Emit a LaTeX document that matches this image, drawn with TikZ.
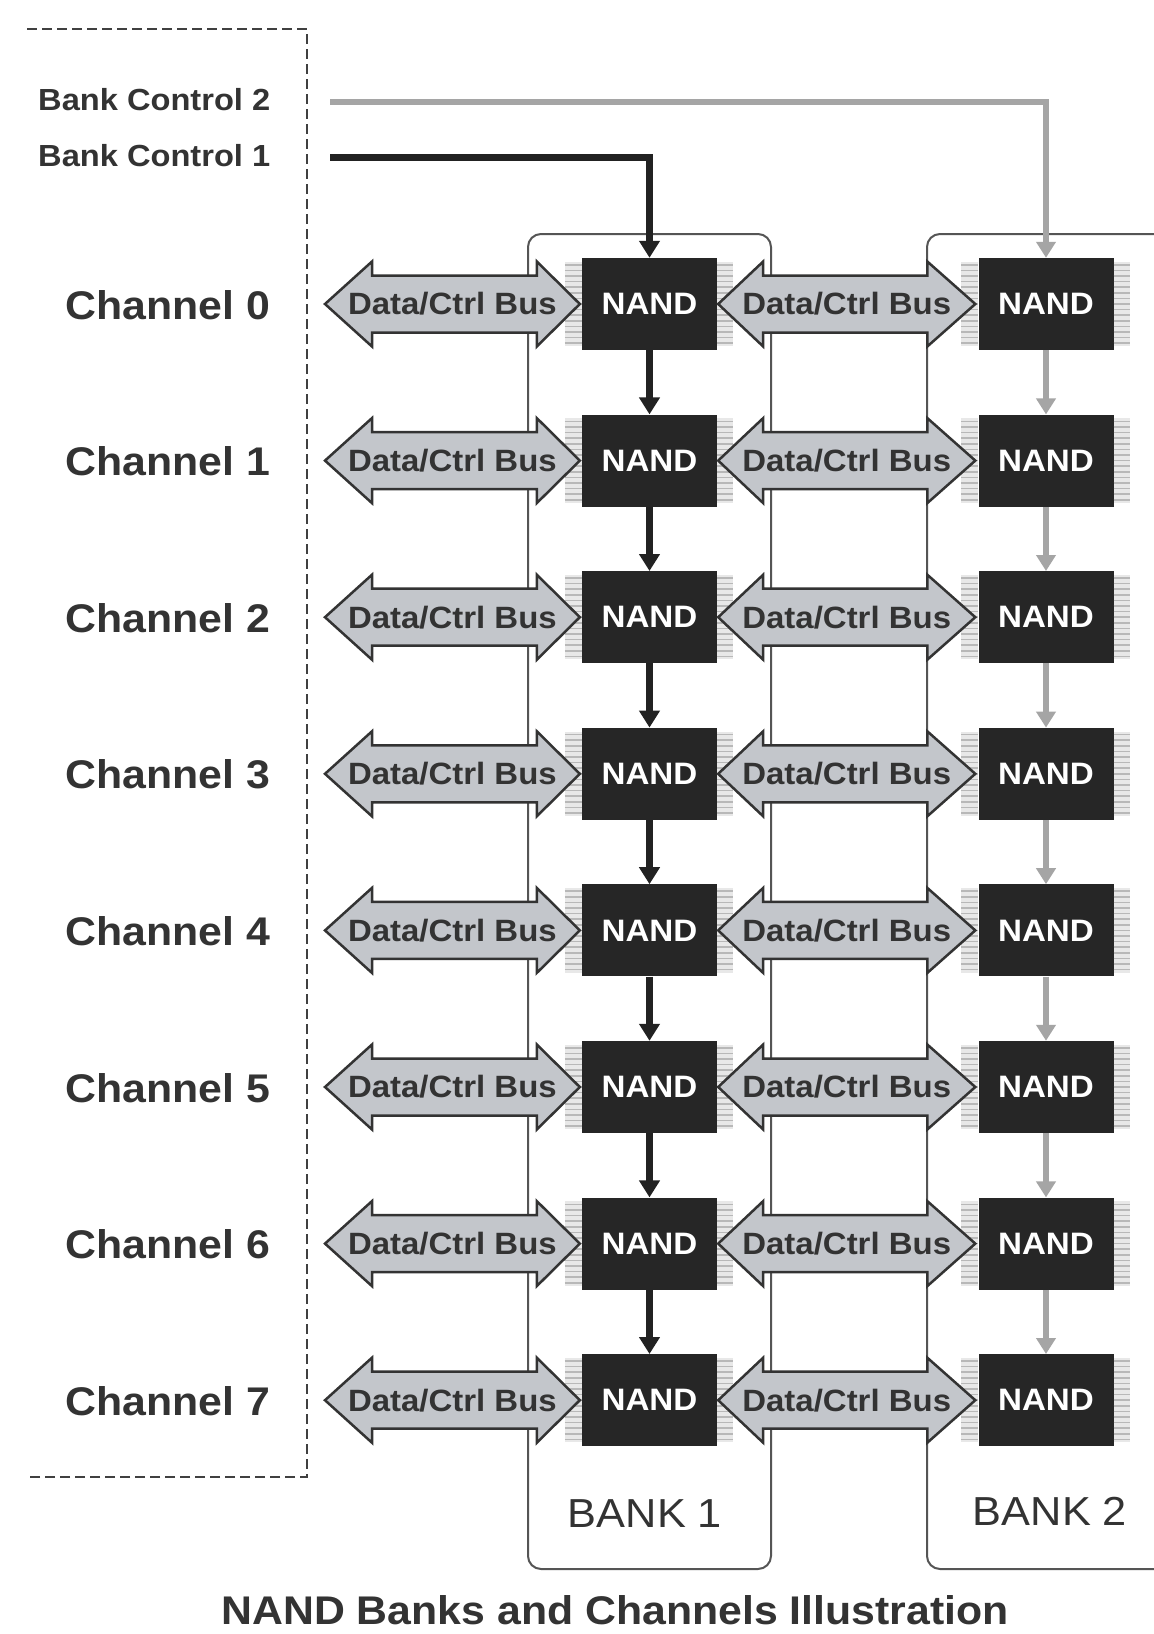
\documentclass[tikz,border=0pt]{standalone}
\usepackage{fontspec}
\setmainfont{Liberation Sans}[FakeStretch=1.07]
\usetikzlibrary{arrows.meta,calc}
\definecolor{nandfill}{HTML}{262626}
\definecolor{busfill}{HTML}{C3C6CB}
\definecolor{busline}{HTML}{333333}
\definecolor{txt}{HTML}{333333}
\definecolor{ctrlgrey}{HTML}{A5A5A5}
\definecolor{ctrlblack}{HTML}{222222}
\definecolor{pinbg}{HTML}{E8E8E8}
\definecolor{pinln}{HTML}{B8B8B8}
\definecolor{bankln}{HTML}{555555}
\newcommand\drawbus[4]{%
  \draw[bus] (#1) -- ++(#3,-42.5) -- ++(0,14) -- ($(#2)+(-#4,-28.5)$) -- ++(0,-14) -- (#2)
    -- ++(-#4,42.5) -- ++(0,-14) -- ($(#1)+(#3,28.5)$) -- ++(0,14) -- cycle;}
\begin{document}
\begin{tikzpicture}[x=1pt,y=-1pt,
  nand/.style={fill=nandfill, text=white, minimum width=135pt, minimum height=92pt, inner sep=0pt, font=\fontsize{31}{31}\selectfont\bfseries},
  bus/.style={fill=busfill, draw=busline, line width=2.5pt, line join=miter},
  bustext/.style={text=txt, inner sep=0pt, font=\fontsize{30.8}{31}\selectfont\bfseries},
  chlabel/.style={text=txt, inner sep=0pt, anchor=base, font=\fontsize{40}{40}\selectfont\bfseries},
  ctrllabel/.style={text=txt, inner sep=0pt, anchor=base west, font=\fontsize{30.5}{31}\selectfont\bfseries},
  banklabel/.style={text=txt, inner sep=0pt, anchor=base, font=\fontsize{40.5}{41}\selectfont},
  captionstyle/.style={text=txt, inner sep=0pt, anchor=base, font=\fontsize{40}{40}\selectfont\bfseries},
  bankbox/.style={draw=bankln, line width=2pt, rounded corners=13pt},
  framebox/.style={draw=black!75, line width=2pt, dash pattern=on 10pt off 5pt},
  flowa/.style={draw=ctrlblack, line width=7pt, line join=miter, -{Triangle[width=20pt,length=17pt]}},
  flowb/.style={draw=ctrlgrey, line width=6pt, line join=miter, -{Triangle[width=19pt,length=16pt]}},
  pinfill/.style={fill=pinbg},
  pinline/.style={draw=pinln, line width=1.6pt},
]
\useasboundingbox (0,0) rectangle (1154,1634);
\clip (0,0) rectangle (1154,1634);
\fill[white] (0,0) rectangle (1154,1634);

% dashed frame
\draw[framebox] (27,29) -- (307,29) -- (307,1477) -- (27,1477);

% control labels
\node[ctrllabel] (bc2t) at (38,110) {Bank Control 2};
\node[ctrllabel] (bc1t) at (38,166) {Bank Control 1};
\coordinate (bc2) at (330,102);
\coordinate (bc1) at (330,157);

% bank boxes
\draw[bankbox] (528,234) rectangle (771,1569);
\draw[bankbox] (927,234) rectangle (1200,1569);

% NAND nodes and channel labels
\foreach \i in {0,...,7} {
  \pgfmathsetmacro\yc{304+156.6*\i}
  \node[nand] (na\i) at (649.5,\yc) {NAND};
  \node[nand] (nb\i) at (1046,\yc) {NAND};
  \node[chlabel] (ch\i) at (168,\yc+15) {Channel \i};
}

% pins
\foreach \b in {a,b} {
  \foreach \i in {0,...,7} {
    \fill[pinfill] ($(n\b\i.north west)+(-17,4)$) rectangle ($(n\b\i.south west)+(0,-4)$);
    \fill[pinfill] ($(n\b\i.north east)+(0,4)$) rectangle ($(n\b\i.south east)+(16,-4)$);
    \foreach \k in {0,...,14} {
      \draw[pinline] ($(n\b\i.north west)+(-17,7+5.6*\k)$) -- ++(17,0);
      \draw[pinline] ($(n\b\i.north east)+(0,7+5.6*\k)$) -- ++(16,0);
    }
  }
}

% buses
\foreach \i in {0,...,7} {
  \pgfmathsetmacro\yc{304+156.6*\i}
  \coordinate (cl\i) at (325,\yc);
  \coordinate (cr\i) at ($(na\i.west)+(-2,0)$);
  \coordinate (ml\i) at ($(na\i.east)+(1,0)$);
  \coordinate (mr\i) at ($(nb\i.west)+(-3,0)$);
  \drawbus{cl\i}{cr\i}{47}{43}
  \drawbus{ml\i}{mr\i}{45}{48}
  \node[bustext] (bl\i) at ($(cl\i)!0.5!(cr\i)$) {Data/Ctrl Bus};
  \node[bustext] (bm\i) at ($(ml\i)!0.5!(mr\i)$) {Data/Ctrl Bus};
}

% vertical flow arrows
\foreach \i [evaluate=\i as \j using int(\i+1)] in {0,...,6} {
  \draw[flowa] (na\i.south) -- (na\j.north);
  \draw[flowb] (nb\i.south) -- (nb\j.north);
}

% control lines
\draw[flowa] (bc1) -| (na0.north);
\draw[flowb] (bc2) -| (nb0.north);

% bank labels and caption
\node[banklabel] (bank1) at (645,1527) {BANK 1};
\node[banklabel] (bank2) at (1050,1525) {BANK 2};
\node[captionstyle] (cap) at (615,1624) {NAND Banks and Channels Illustration};
\end{tikzpicture}
\end{document}
